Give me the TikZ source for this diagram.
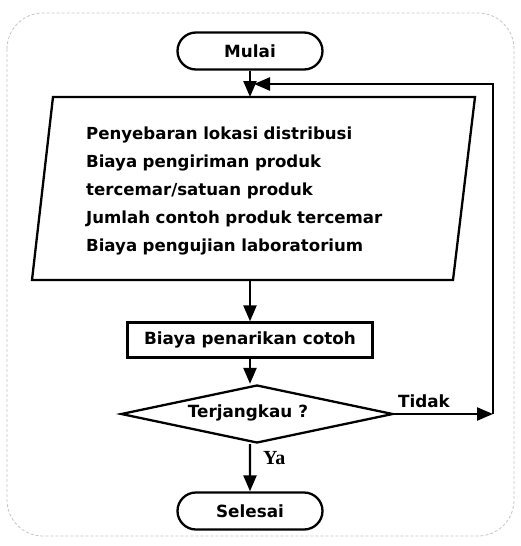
\documentclass[tikz,border=0pt]{standalone}
\usepackage{fontspec}
\setmainfont{DejaVu Sans}
\newfontfamily\serifbold{Liberation Serif}
\usetikzlibrary{shapes.geometric,shapes.misc,arrows.meta}
\begin{document}
\begin{tikzpicture}[x=1pt,y=-1pt,
  line width=2.3pt,
  tip/.style={-{Triangle[length=16pt,width=13pt]}},
  sf/.style={font=\bfseries\fontsize{16.8}{20}\selectfont},
  term/.style={draw, rounded rectangle, minimum width=145pt, minimum height=37pt, inner sep=0pt, sf},
  procbox/.style={draw, rectangle, minimum width=245pt, minimum height=35pt, inner sep=0pt, sf},
  decision/.style={draw, diamond, minimum width=272pt, minimum height=58pt, inner sep=0pt, aspect=4.7, sf},
  frame/.style={draw=gray!45, line width=0.8pt, densely dashed, rounded corners=36pt}
]
\useasboundingbox (0,0) rectangle (521,546);
\draw[frame] (7,13) rectangle (514,536);

\node[term] (start) at (250,51) {Mulai};

\draw (53,97) -- (475,97) -- (453,280) -- (32,280) -- cycle;
\coordinate (ptop) at (250,97);
\coordinate (pbot) at (250,280);
\node[anchor=north west, align=left, text width=380pt, inner sep=0pt, font=\bfseries\fontsize{16.6}{27.9}\selectfont] (data) at (85,126)
  {Penyebaran lokasi distribusi\\
   Biaya pengiriman produk\\
   tercemar/satuan produk\\
   Jumlah contoh produk tercemar\\
   Biaya pengujian laboratorium};

\node[procbox] (cost) at (250,340) {Biaya penarikan cotoh};
\node[decision] (dec) at (257,414) {};
\node[sf, inner sep=0pt] (dectext) at (248,413) {Terjangkau ?};
\node[term] (end) at (250,511) {Selesai};

\coordinate (cr) at (493,414);
\coordinate (ct) at (493,84);
\coordinate (cj) at (254,84);

\draw[tip] (start) -- (ptop);
\draw[tip] (pbot) -- (cost);
\draw[tip] (cost.south) -- (cost.south |- dec.north);
\draw[tip] (end.north |- dec.south) -- (end);
\node[anchor=west, inner sep=0pt, font=\serifbold\bfseries\fontsize{20}{22}\selectfont] (ya) at (262,458) {Ya};
\draw[tip] (dec.east) -- (cr);
\draw[tip] (cr) -- (ct) -- (cj);
\node[anchor=south west, inner sep=0pt, sf] (tidak) at (397,409) {Tidak};
\end{tikzpicture}
\end{document}
